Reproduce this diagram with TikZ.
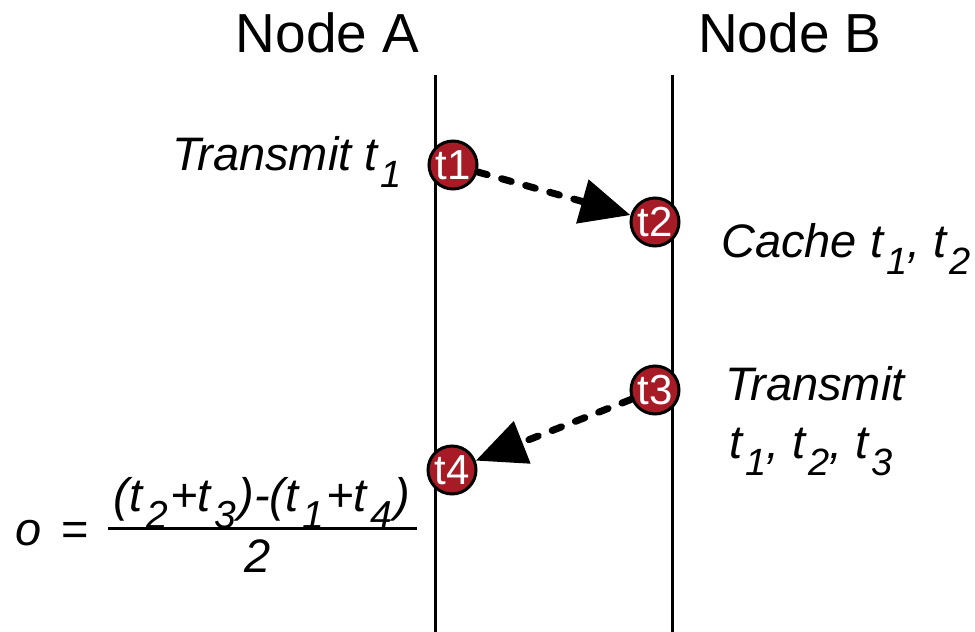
\documentclass[tikz,border=0pt]{standalone}
\usepackage{fontspec}
\setmainfont{Liberation Sans}
\usetikzlibrary{arrows.meta}
\definecolor{dotred}{RGB}{166,27,38}
\newcommand\mysub[1]{\kern3pt\raisebox{-0.38em}{\fontsize{38}{38}\selectfont #1}}
\newcommand\mysubx[1]{\kern4pt\raisebox{-0.38em}{\fontsize{39}{39}\selectfont #1}\kern2pt}
\tikzset{
  timeline/.style={line width=3pt},
  header/.style={font=\fontsize{55}{60}\selectfont, inner sep=0pt, anchor=base},
  label/.style={font=\fontsize{47}{50}\selectfont\itshape, inner sep=0pt, anchor=base west},
  stamp/.style={circle, fill=dotred, draw=black, line width=3pt, minimum size=48pt, inner sep=0pt, text=white, font=\fontsize{42}{42}\selectfont},
  msg/.style={line width=7pt, line cap=round, dash pattern=on 10pt off 15pt, -{Triangle[length=50pt,width=44pt]}},
  fracbar/.style={line width=3pt}
}
\begin{document}
\begin{tikzpicture}[x=1pt,y=-1pt]
\useasboundingbox (0,0) rectangle (975,632);
% headers
\node[header] (hA) at (327.5,52) {Node A};
\node[header] (hB) at (790,52) {Node B};
% timelines
\coordinate (Atop) at (435,75);
\coordinate (Abot) at (435,632);
\coordinate (Btop) at (672,75);
\coordinate (Bbot) at (672,632);
\draw[timeline] (Atop) -- (Abot);
\draw[timeline] (Btop) -- (Bbot);
% timestamps
\node[stamp] (t1) at (453,165) {t1};
\node[stamp] (t2) at (655,222) {t2};
\node[stamp] (t3) at (655,390) {t3};
\node[stamp] (t4) at (452,470) {t4};
% messages
\draw[msg] (t1) -- (t2);
\draw[msg] (t3) -- (t4);
% labels
\node[label] (l1) at (172,170) {Transmit t\mysub{1}};
\node[label] (l2) at (721,257) {Cache t\mysub{1}, t\mysub{2}};
\node[label] (l3) at (725,400) {Transmit};
\node[label] (l4) at (729,458) {t\mysub{1}, t\mysub{2}, t\mysub{3}};
% formula
\node[label] (o) at (15,545) {o\hspace{20pt}\upshape =};
\node[label, anchor=base] (num) at (262,511) {(t\mysubx{2}+t\mysubx{3})-(t\mysubx{1}+t\mysubx{4})};
\node[label, anchor=base] (den) at (258,572) {2};
\draw[fracbar] (108,528) -- (417,528);
\end{tikzpicture}
\end{document}
